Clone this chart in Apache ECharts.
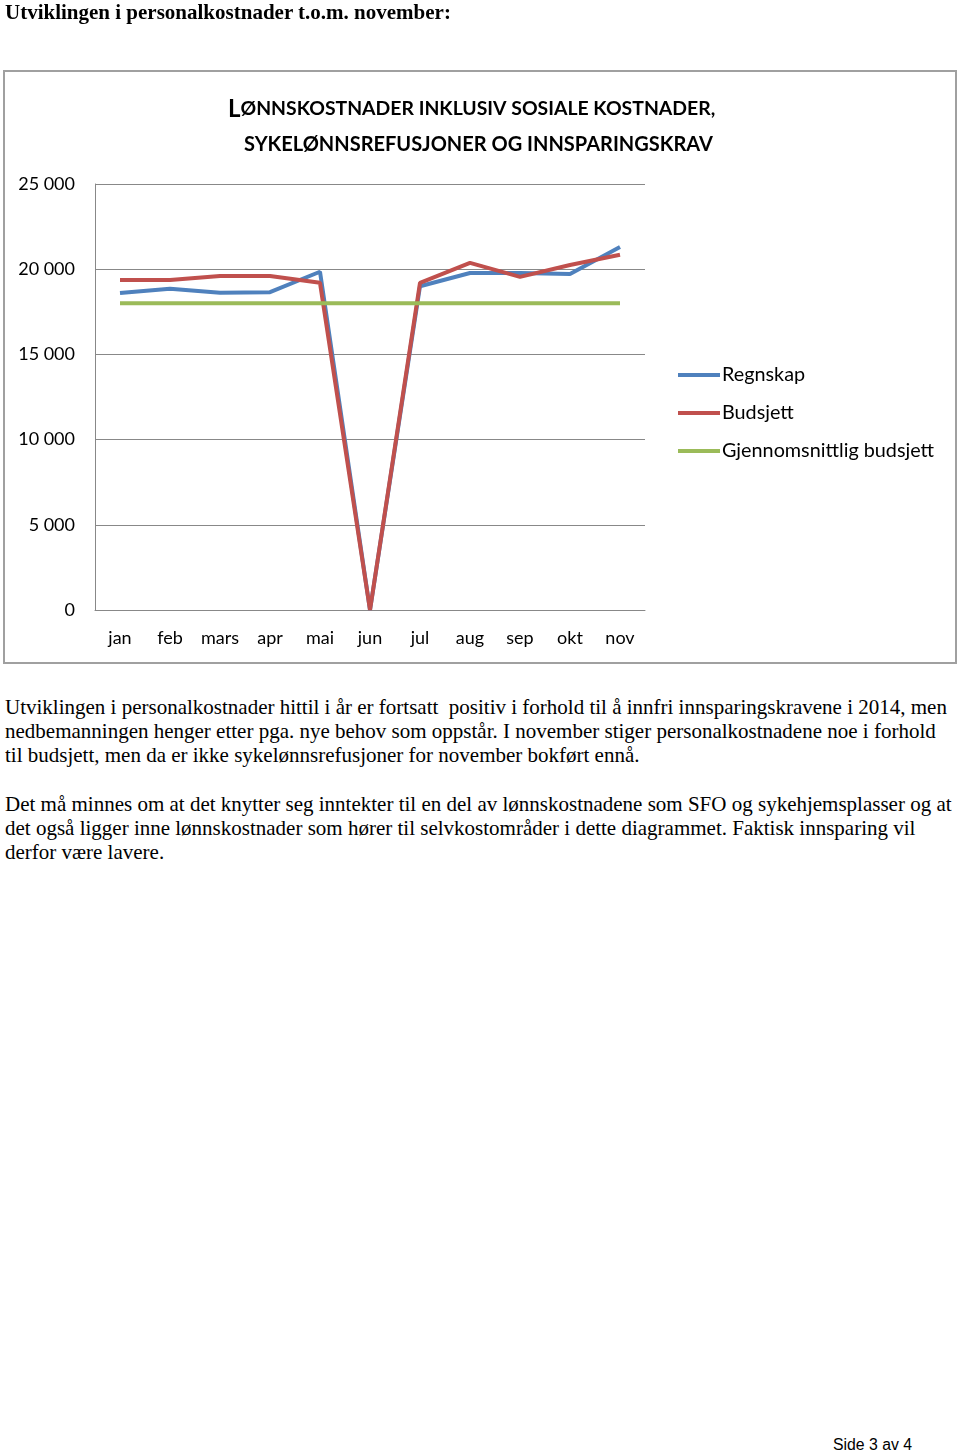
<!DOCTYPE html>
<html>
<head>
<meta charset="utf-8">
<script src="https://cdn.jsdelivr.net/npm/echarts@6/dist/echarts.min.js"></script>
<style>
  body { margin: 0; background: #fff; }
  #page { position: relative; width: 960px; height: 1452px; overflow: hidden; }
  #chart { position: absolute; left: 0; top: 0; width: 960px; height: 680px; }
  .txt { position: absolute; left: 5px; font-family: 'Liberation Serif', serif; color: #000; white-space: pre; }
  #head { top: 0px; font-size: 21px; font-weight: bold; }
  .para { font-size: 21px; line-height: 24px; }
  #p1 { top: 695px; }
  #p2 { top: 792px; }
  #footer { position: absolute; left: 833px; top: 1436px; font-family: 'Liberation Sans', sans-serif; font-size: 15.8px; color: #000; }
</style>
</head>
<body>
<div id="page">
  <div id="chart"></div>
  <div class="txt" id="head">Utviklingen i personalkostnader t.o.m. november:</div>
  <div class="txt para" id="p1">Utviklingen i personalkostnader hittil i år er fortsatt  positiv i forhold til å innfri innsparingskravene i 2014, men
nedbemanningen henger etter pga. nye behov som oppstår. I november stiger personalkostnadene noe i forhold
til budsjett, men da er ikke sykelønnsrefusjoner for november bokført ennå.</div>
  <div class="txt para" id="p2">Det må minnes om at det knytter seg inntekter til en del av lønnskostnadene som SFO og sykehjemsplasser og at
det også ligger inne lønnskostnader som hører til selvkostområder i dette diagrammet. Faktisk innsparing vil
derfor være lavere.</div>
  <div id="footer">Side 3 av 4</div>
</div>
<script>
const months = ['jan', 'feb', 'mars', 'apr', 'mai', 'jun', 'jul', 'aug', 'sep', 'okt', 'nov']
const regnskap = [18600, 18850, 18620, 18650, 19850, 0, 19000, 19780, 19780, 19720, 21300]
const budsjett = [19370, 19370, 19600, 19600, 19200, 0, 19200, 20370, 19550, 20250, 20850]
const snittBudsjett = [18000, 18000, 18000, 18000, 18000, 18000, 18000, 18000, 18000, 18000, 18000]

const chartFont = 'Lato'
const chart = echarts.init(document.getElementById('chart'))

function lineSerie(name, data, color) {
  return {
    name: name,
    type: 'line',
    data: data,
    symbol: 'none',
    lineStyle: { width: 4, color: color },
    itemStyle: { color: color },
    animation: false
  }
}

chart.setOption({
  animation: false,
  graphic: [
    {
      type: 'rect',
      shape: { x: 4, y: 71, width: 952, height: 592 },
      style: { fill: 'none', stroke: '#a0a0a0', lineWidth: 2 }
    },
    {
      type: 'text',
      left: 228,
      top: 97,
      style: {
        text: '{big|L}{sm|ØNNSKOSTNADER INKLUSIV SOSIALE KOSTNADER,}',
        rich: {
          big: { fontFamily: chartFont, fontWeight: 'bold', fontSize: 24, fill: '#000' },
          sm: { fontFamily: chartFont, fontWeight: 'bold', fontSize: 19.4, fill: '#000' }
        }
      }
    },
    {
      type: 'text',
      left: 244,
      top: 135,
      style: {
        text: 'SYKELØNNSREFUSJONER OG INNSPARINGSKRAV',
        fontFamily: chartFont,
        fontWeight: 'bold',
        fontSize: 20,
        fill: '#000'
      }
    }
  ],
  legend: {
    orient: 'vertical',
    left: 673,
    top: 360,
    itemWidth: 42,
    itemHeight: 4,
    itemGap: 18,
    icon: 'rect',
    textStyle: { fontFamily: chartFont, fontSize: 19.8, color: '#000', padding: [0, 0, 0, -3] },
    data: ['Regnskap', 'Budsjett', 'Gjennomsnittlig budsjett']
  },
  grid: {
    left: 95,
    top: 184,
    width: 550,
    height: 426,
    containLabel: false
  },
  xAxis: {
    type: 'category',
    data: months,
    boundaryGap: true,
    axisLine: { lineStyle: { color: '#888', width: 1 } },
    axisTick: { show: false },
    axisLabel: { fontFamily: chartFont, fontSize: 18, color: '#000', margin: 19, interval: 0 }
  },
  yAxis: {
    type: 'value',
    min: 0,
    max: 25000,
    interval: 5000,
    axisLine: { show: true, lineStyle: { color: '#888', width: 1 } },
    axisTick: { show: false },
    splitLine: { lineStyle: { color: '#888', width: 1 } },
    axisLabel: {
      fontFamily: chartFont,
      fontSize: 18,
      color: '#000',
      margin: 20,
      formatter: function(v) {
        return v === 0 ? '0' : String(v).replace(/\B(?=(\d{3})+(?!\d))/g, ' ')
      }
    }
  },
  series: [
    lineSerie('Regnskap', regnskap, '#4f81bd'),
    lineSerie('Budsjett', budsjett, '#c0504d'),
    lineSerie('Gjennomsnittlig budsjett', snittBudsjett, '#9bbb59')
  ]
})
</script>
</body>
</html>
